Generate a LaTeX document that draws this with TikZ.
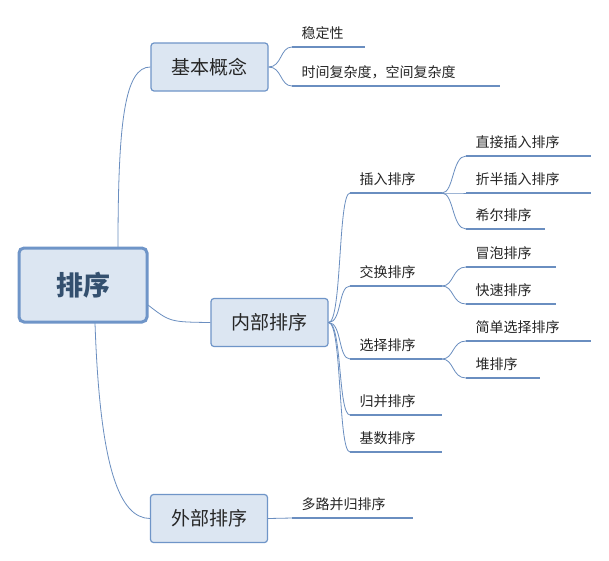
\documentclass[tikz,border=0pt]{standalone}
\usepackage{fontspec}
\setmainfont{Noto Sans CJK SC}
\begin{document}
\begin{tikzpicture}[x=1pt,y=-1pt,
  ln/.style={draw=lc,line width=1.1pt},
  cv/.style={draw=lc,line width=0.8pt},
  bx/.style={draw=bc,fill=bf,line width=1.2pt,rounded corners=3pt,minimum width=117pt,minimum height=48pt,font=\fontsize{19}{22}\selectfont,text=black!85},
  lf/.style={anchor=west,font=\fontsize{14}{16}\selectfont,text=black!85}]
\definecolor{lc}{HTML}{6A8EC0}\definecolor{bc}{HTML}{6F95C8}\definecolor{bf}{HTML}{DCE6F2}\definecolor{rt}{HTML}{34506F}
\useasboundingbox (0,0) rectangle (609,560);
\fill[white] (0,0) rectangle (609,560);
\coordinate (r1) at (118,247); \coordinate (r2) at (148,305); \coordinate (r3) at (95,323);
\node[bx] (a) at (209.5,67) {基本概念};
\node[bx] (b) at (269.5,322.5) {内部排序};
\node[bx] (c) at (209,518.5) {外部排序};
\draw[cv] (r1) .. controls (118,120) and (125,67) .. (a.west);
\draw[cv] (r2) .. controls (170,322) .. (b.west);
\draw[cv] (r3) .. controls (100,470) and (120,518) .. (c.west);
\node[draw=bc,fill=bf,line width=3pt,rounded corners=5pt,minimum width=128pt,minimum height=74pt,font=\fontsize{27}{30}\selectfont\bfseries,text=rt] (root) at (83,285) {排序};
\newcommand{\lfline}[5]{%
  \coordinate (#1s) at (#2,#4); \coordinate (#1e) at (#3,#4);
  \draw[ln] (#1s) -- (#1e);
  \node[lf] (#1) at (#2+6,#4-14) {#5};}
\lfline{k1}{292}{365}{47}{稳定性}
\lfline{k2}{292}{500}{86}{时间复杂度，空间复杂度}
\lfline{n1}{350}{442}{193}{插入排序}
\lfline{n2}{350}{442}{286}{交换排序}
\lfline{n3}{350}{442}{359}{选择排序}
\lfline{n4}{350}{442}{415}{归并排序}
\lfline{n5}{350}{442}{452}{基数排序}
\lfline{m1}{466}{591}{156}{直接插入排序}
\lfline{m2}{466}{591}{193}{折半插入排序}
\lfline{m3}{466}{545}{229}{希尔排序}
\lfline{m4}{466}{556}{267}{冒泡排序}
\lfline{m5}{466}{556}{304}{快速排序}
\lfline{m6}{466}{591}{341}{简单选择排序}
\lfline{m7}{466}{540}{378}{堆排序}
\lfline{w1}{292}{413}{518}{多路并归排序}
\foreach \t in {k1s,k2s}{\draw[cv] (a.east) .. controls (282,67) and (280,0 |- \t) .. (\t);}
\foreach \t in {n1s,n2s,n3s,n4s,n5s}{\draw[cv] (b.east) .. controls (342,322.5) and (338,0 |- \t) .. (\t);}
\foreach \t in {m1s,m2s,m3s}{\draw[cv] (n1e) .. controls (454,193) and (452,0 |- \t) .. (\t);}
\foreach \t in {m4s,m5s}{\draw[cv] (n2e) .. controls (454,286) and (452,0 |- \t) .. (\t);}
\foreach \t in {m6s,m7s}{\draw[cv] (n3e) .. controls (454,359) and (452,0 |- \t) .. (\t);}
\draw[cv] (c.east) -- (w1s);
\end{tikzpicture}
\end{document}
